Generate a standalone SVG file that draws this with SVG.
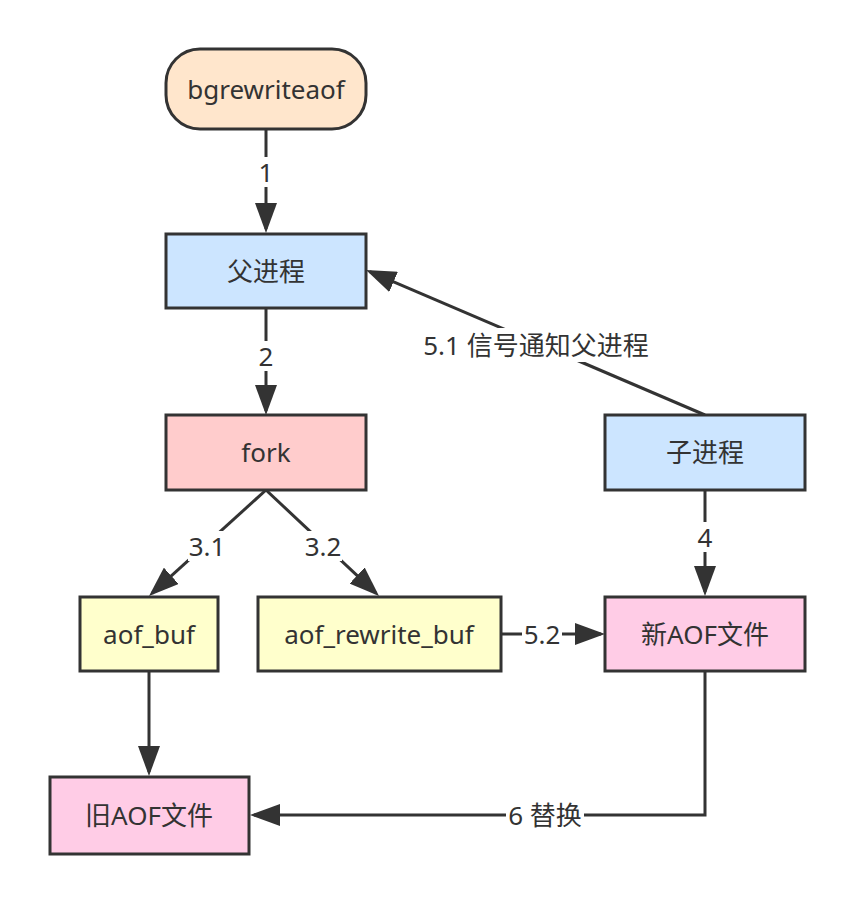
<svg xmlns="http://www.w3.org/2000/svg" width="854" height="904" viewBox="0 0 854 904">
<style>
.n{stroke:#333333;stroke-width:3}
.t{font-family:"Noto Sans","Noto Sans CJK SC",sans-serif;font-size:26px;fill:#333333;text-anchor:middle;dominant-baseline:central}
.e{fill:none;stroke:#333333;stroke-width:3}
.bg{fill:#ffffff}
</style>
<defs>
<marker id="arr" viewBox="0 0 30 22" refX="26" refY="11" markerWidth="30" markerHeight="22" markerUnits="userSpaceOnUse" orient="auto">
<path d="M0,0 L30,11 L0,22 z" fill="#333333"/>
</marker>
</defs>
<rect width="854" height="904" fill="#ffffff"/>
<g id="connectors">
<line class="e" x1="266" y1="130" x2="266" y2="229" marker-end="url(#arr)"/>
<rect class="bg" x="256" y="157" width="20" height="30"/>
<text class="t" x="266" y="172">1</text>
<line class="e" x1="266" y1="309" x2="266" y2="411" marker-end="url(#arr)"/>
<rect class="bg" x="256" y="341" width="20" height="30"/>
<text class="t" x="266" y="356">2</text>
<line class="e" x1="705" y1="415" x2="369.7" y2="271.6" marker-end="url(#arr)"/>
<rect class="bg" x="421" y="328" width="230" height="34"/>
<text class="t" x="536" y="345">5.1 信号通知父进程</text>
<line class="e" x1="266" y1="490" x2="152" y2="593.3" marker-end="url(#arr)"/>
<rect class="bg" x="188" y="531" width="38" height="30"/>
<text class="t" x="207" y="546">3.1</text>
<line class="e" x1="266" y1="490" x2="376.1" y2="593.3" marker-end="url(#arr)"/>
<rect class="bg" x="304" y="531" width="38" height="30"/>
<text class="t" x="323" y="546">3.2</text>
<line class="e" x1="705" y1="490" x2="705" y2="592" marker-end="url(#arr)"/>
<rect class="bg" x="695" y="522" width="20" height="30"/>
<text class="t" x="705" y="537">4</text>
<line class="e" x1="501" y1="634" x2="601" y2="634" marker-end="url(#arr)"/>
<rect class="bg" x="522" y="619" width="40" height="30"/>
<text class="t" x="542" y="634">5.2</text>
<line class="e" x1="149" y1="672" x2="149" y2="772" marker-end="url(#arr)"/>
<polyline class="e" points="705,672 705,815 254,815" marker-end="url(#arr)"/>
<rect class="bg" x="506" y="800" width="78" height="30"/>
<text class="t" x="545" y="815">6 替换</text>
</g>
<g id="bgrewriteaof">
<rect class="n" x="166" y="49" width="200" height="80" rx="34" ry="34" fill="#FFE6CC"/>
<text class="t" x="266" y="89">bgrewriteaof</text>
</g>
<g id="parent">
<rect class="n" x="166" y="234" width="200" height="74" fill="#CCE5FF"/>
<text class="t" x="266" y="271">父进程</text>
</g>
<g id="fork">
<rect class="n" x="166" y="415" width="200" height="75" fill="#FFCCCC"/>
<text class="t" x="266" y="452">fork</text>
</g>
<g id="child">
<rect class="n" x="605" y="415" width="200" height="75" fill="#CCE5FF"/>
<text class="t" x="705" y="452">子进程</text>
</g>
<g id="aof_buf">
<rect class="n" x="80" y="597" width="138" height="74" fill="#FFFFCC"/>
<text class="t" x="149" y="634">aof_buf</text>
</g>
<g id="aof_rewrite_buf">
<rect class="n" x="258" y="597" width="243" height="74" fill="#FFFFCC"/>
<text class="t" x="379" y="634">aof_rewrite_buf</text>
</g>
<g id="new_aof">
<rect class="n" x="605" y="597" width="200" height="74" fill="#FFCCE6"/>
<text class="t" x="705" y="634">新AOF文件</text>
</g>
<g id="old_aof">
<rect class="n" x="50" y="777" width="199" height="77" fill="#FFCCE6"/>
<text class="t" x="149" y="815">旧AOF文件</text>
</g>
</svg>
